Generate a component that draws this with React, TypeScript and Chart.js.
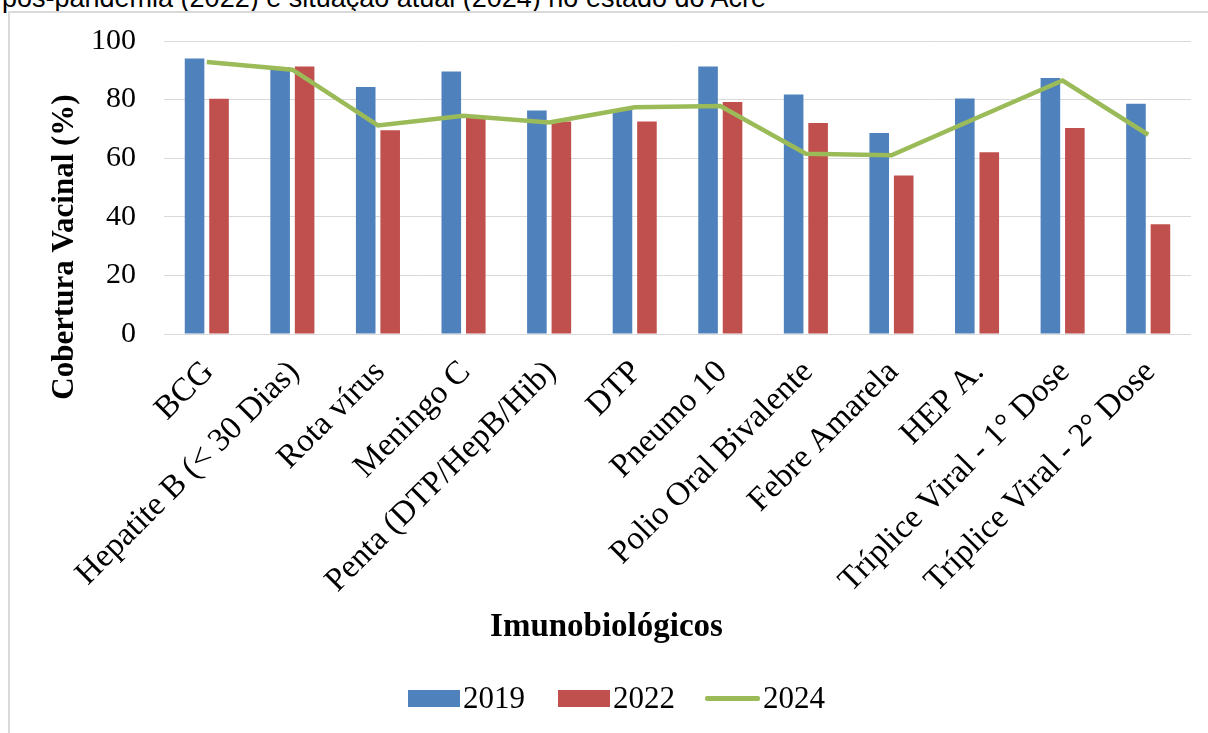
import React, { useEffect, useRef } from 'react';
import { Chart, registerables } from 'chart.js';

Chart.register(...registerables);

const CAPTION = 'pós-pandemia (2022) e situação atual (2024) no estado do Acre';
const Y_TITLE = 'Cobertura Vacinal (%)';
const X_TITLE = 'Imunobiológicos';

const CATEGORIES = [
  'BCG',
  'Hepatite B (< 30 Dias)',
  'Rota vírus',
  'Meningo C',
  'Penta (DTP/HepB/Hib)',
  'DTP',
  'Pneumo 10',
  'Polio Oral Bivalente',
  'Febre Amarela',
  'HEP A.',
  'Tríplice Viral - 1° Dose',
  'Tríplice Viral - 2° Dose',
];

const SERIES_2019 = [94.0, 91.1, 84.3, 89.6, 76.3, 76.8, 91.3, 81.7, 68.6, 80.4, 87.4, 78.6];
const SERIES_2022 = [80.3, 91.3, 69.5, 74.0, 72.5, 72.5, 79.2, 72.0, 54.1, 62.0, 70.3, 37.5];
const SERIES_2024 = [92.8, 90.2, 71.2, 74.5, 72.2, 77.4, 77.8, 61.5, 61.0, 73.8, 86.5, 68.0];

const SERIES_LABELS = ['2019', '2022', '2024'];
const Y_MIN = 0;
const Y_MAX = 100;
const Y_STEP = 20;

const BLUE = '#4F81BD';
const RED = '#C0504D';
const GREEN = '#9BBB59';
const GRID = '#D9D9D9';
const SERIF = '"Liberation Serif", "Times New Roman", serif';

const titlesPlugin = {
  id: 'axisTitles',
  afterDraw(chart: any) {
    const ctx = chart.ctx as CanvasRenderingContext2D;
    ctx.save();
    ctx.fillStyle = '#000';
    ctx.textAlign = 'center';
    ctx.textBaseline = 'alphabetic';
    ctx.font = `bold 31px ${SERIF}`;
    ctx.save();
    ctx.translate(73, 247);
    ctx.rotate(-Math.PI / 2);
    ctx.fillText(Y_TITLE, 0, 0);
    ctx.restore();
    ctx.font = `bold 33px ${SERIF}`;
    ctx.fillText(X_TITLE, 606.5, 636);
    ctx.restore();
  },
};

export default function App() {
  const ref = useRef<HTMLCanvasElement>(null);

  useEffect(() => {
    document.body.style.margin = '0';
    document.body.style.overflow = 'hidden';
    const canvas = ref.current!;
    const chart = new Chart(canvas, {
      type: 'bar',
      data: {
        labels: CATEGORIES,
        datasets: [
          {
            type: 'bar',
            label: SERIES_LABELS[0],
            data: SERIES_2019,
            backgroundColor: BLUE,
            categoryPercentage: 0.572,
            barPercentage: 0.8,
            order: 1,
          },
          {
            type: 'bar',
            label: SERIES_LABELS[1],
            data: SERIES_2022,
            backgroundColor: RED,
            categoryPercentage: 0.572,
            barPercentage: 0.8,
            order: 1,
          },
          {
            type: 'line',
            label: SERIES_LABELS[2],
            data: SERIES_2024,
            borderColor: GREEN,
            backgroundColor: GREEN,
            borderWidth: 4.5,
            pointRadius: 0,
            tension: 0,
            fill: false,
            order: 0,
          },
        ] as any,
      },
      options: {
        responsive: false,
        animation: false,
        devicePixelRatio: 1,
        layout: { padding: { left: 0, right: 17, top: 41, bottom: 0 } },
        plugins: {
          legend: { display: false },
          tooltip: { enabled: false },
          title: { display: false },
        },
        scales: {
          x: {
            grid: { display: false, drawTicks: false },
            border: { display: false },
            ticks: {
              autoSkip: false,
              minRotation: 45,
              maxRotation: 45,
              padding: 19,
              labelOffset: 2,
              color: '#000',
              font: { family: SERIF, size: 33 },
            },
            afterFit: (s: any) => {
              s.height = 399;
              s.paddingLeft = 0;
              s.paddingRight = 0;
            },
          },
          y: {
            min: Y_MIN,
            max: Y_MAX,
            grid: { color: GRID, lineWidth: 1, drawTicks: false },
            border: { display: false },
            ticks: {
              stepSize: Y_STEP,
              padding: 28,
              color: '#000',
              font: { family: SERIF, size: 30 },
            },
            afterFit: (s: any) => {
              s.width = 164;
              s.paddingTop = 0;
              s.paddingBottom = 0;
            },
          },
        },
      } as any,
      plugins: [titlesPlugin],
    });
    return () => chart.destroy();
  }, []);

  const legendText: React.CSSProperties = {
    position: 'absolute',
    top: 682,
    fontFamily: SERIF,
    fontSize: 31,
    lineHeight: '31px',
    color: '#000',
    whiteSpace: 'nowrap',
  };

  return (
    <div style={{ position: 'relative', width: 1208, height: 733, overflow: 'hidden', background: '#fff' }}>
      <div
        style={{
          position: 'absolute',
          left: 2,
          top: -15,
          fontFamily: '"Liberation Sans", Arial, sans-serif',
          fontSize: 27,
          lineHeight: '27px',
          color: '#000',
          whiteSpace: 'nowrap',
        }}
      >
        {CAPTION}
      </div>
      <div
        style={{
          position: 'absolute',
          left: 8,
          top: 11,
          width: 1240,
          height: 760,
          background: '#fff',
          borderLeft: `2px solid ${GRID}`,
          borderTop: `2px solid ${GRID}`,
        }}
      />
      <canvas
        ref={ref}
        width={1208}
        height={733}
        style={{ position: 'absolute', left: 0, top: 0, width: 1208, height: 733 }}
      />
      <div style={{ position: 'absolute', left: 408, top: 690, width: 52, height: 17, background: BLUE }} />
      <span style={{ ...legendText, left: 463 }}>{SERIES_LABELS[0]}</span>
      <div style={{ position: 'absolute', left: 558, top: 690, width: 52, height: 17, background: RED }} />
      <span style={{ ...legendText, left: 613 }}>{SERIES_LABELS[1]}</span>
      <div style={{ position: 'absolute', left: 705, top: 696, width: 55, height: 4.5, background: GREEN, borderRadius: 2 }} />
      <span style={{ ...legendText, left: 763 }}>{SERIES_LABELS[2]}</span>
    </div>
  );
}
